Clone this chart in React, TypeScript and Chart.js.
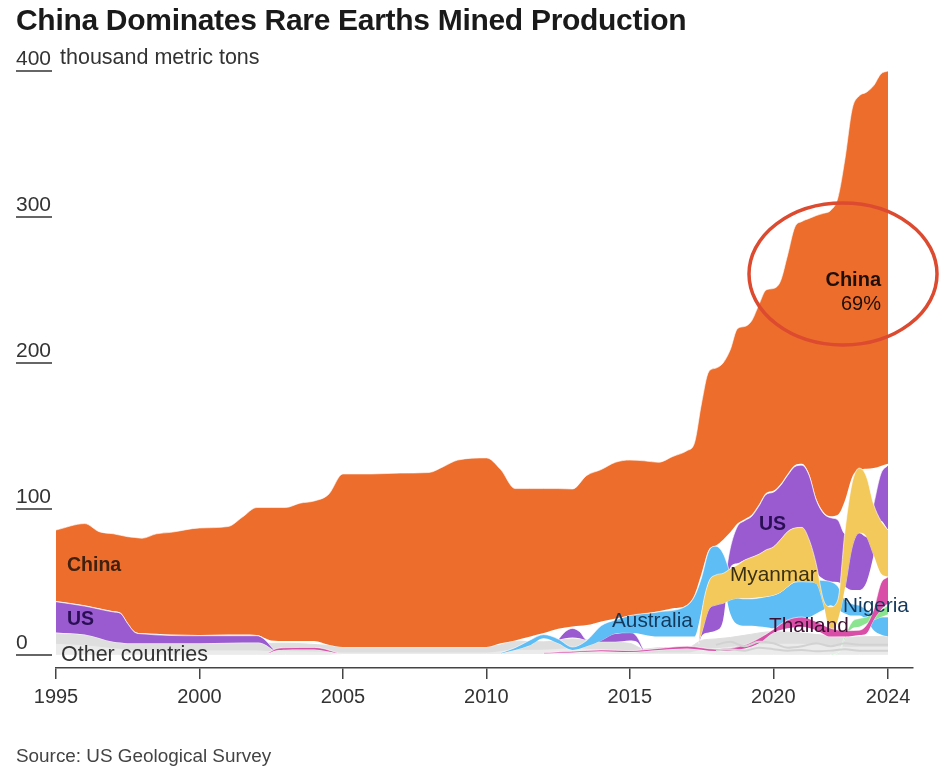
import { useEffect, useRef } from "react";
import Chart from "chart.js/auto";

const TITLE = "China Dominates Rare Earths Mined Production";
const UNIT = "thousand metric tons";
const SOURCE = "Source: US Geological Survey";
const yTicks = [0, 100, 200, 300, 400];
const xTicks = [1995, 2000, 2005, 2010, 2015, 2020, 2024];

const chinaYears = [1995, 1996, 1996.5, 1997, 1997.25, 1997.5, 1997.75, 1998, 1998.5, 1999, 2000, 2001, 2001.5, 2002, 2002.5, 2003, 2003.5, 2004, 2004.5, 2005, 2006, 2007, 2008, 2008.5, 2009, 2010, 2010.5, 2011, 2011.5, 2012, 2012.5, 2013, 2013.5, 2014, 2014.5, 2015, 2015.5, 2016, 2016.5, 2017, 2017.25, 2017.5, 2017.75, 2018, 2018.25, 2018.5, 2018.75, 2019, 2019.25, 2019.5, 2019.75, 2020, 2020.25, 2020.5, 2020.75, 2021, 2021.25, 2021.5, 2021.75, 2022, 2022.25, 2022.5, 2022.75, 2023, 2023.25, 2023.5, 2023.75, 2024];
const chinaHigh = [85.6, 90, 84.5, 83, 82, 81, 80.5, 80, 83, 84, 87, 88, 94.5, 101, 101, 101, 104, 105.5, 110, 124, 124, 124.6, 125, 129, 133.5, 135, 127, 114, 114, 114, 114, 113.7, 123, 127, 132, 133.5, 133, 132, 136, 140, 145, 172.5, 194, 196.5, 200, 209, 223.5, 225, 229, 240, 250, 251, 256, 274, 293, 297, 299, 301, 302.5, 304.5, 313, 340, 374, 383, 385.5, 390, 398, 400];
const chinaLow = [37, 34, 32, 30, 29, 22, 16, 15, 14.5, 14, 13.7, 14, 14, 13.7, 10, 9.6, 9.6, 9.6, 7, 5.5, 5.5, 5.5, 5.5, 5.5, 5.5, 5.5, 8, 10, 12.5, 15, 18, 19.5, 20.5, 23, 25, 27, 28.5, 30, 32, 34.5, 41, 56, 72, 75, 79, 84, 90, 93, 96, 103, 111, 112.5, 117, 124, 130, 131, 124, 107, 98, 95, 96, 106, 122, 127, 127.5, 128, 129.5, 131];

const usEarlyYears = [1995, 1996, 1997, 1997.25, 1997.5, 1997.75, 1998, 2000, 2002, 2002.25, 2002.6];
const usEarlyHigh = [36.5, 33.5, 29.5, 28.5, 21.5, 15.5, 14.5, 13.2, 13.2, 11, 3.5];
const usEarlyLow = [15.5, 14, 9, 8.5, 8, 8, 8, 8, 8.5, 7.5, 3];

const usMidYears = [2012.5, 2012.75, 2013, 2013.25, 2013.5, 2013.75, 2014, 2014.5, 2015, 2015.25, 2015.5];
const usMidHigh = [10.5, 16, 18.2, 16, 10.5, 12, 13.7, 14.8, 16, 12.5, 2.5];
const usMidLow = [10.3, 11.5, 12, 11.5, 10.3, 10, 9.1, 9.1, 10, 9, 2];

const lateYears = [2017.4, 2017.5, 2017.75, 2018, 2018.25, 2018.5, 2018.75, 2019, 2019.25, 2019.5, 2019.75, 2020, 2020.25, 2020.5, 2020.75, 2021, 2021.25, 2021.5, 2021.75, 2022, 2022.25, 2022.5, 2022.75, 2023, 2023.25, 2023.5, 2023.75, 2024];
const usLateHigh = [8, 16, 33, 35.4, 45, 73, 88, 92, 95, 102, 110, 111.5, 116, 123, 129, 130, 123, 106, 97, 94, 92.5, 83, 83, 83.7, 81, 103, 124, 130];
const usLateLow = [7.5, 13, 15.5, 16.7, 24, 60, 62.8, 65, 67, 69, 72, 74, 79, 84.5, 87, 87.4, 70, 57, 52, 50.2, 50, 46.8, 44.5, 44.5, 50, 68.5, 92, 85.6];
const myanmarHigh = [10, 28.5, 50, 54.8, 55.9, 59, 61.6, 65, 67, 69, 72, 74, 79, 84.5, 87, 87.4, 79, 62, 37.7, 33, 37.7, 85, 118, 128, 122, 103, 92, 85.6];
const myanmarLow = [9.5, 15, 31, 34.2, 35.4, 37.7, 38.8, 38.8, 39, 39.5, 40, 41, 43, 46.8, 50, 50.2, 50, 49, 35, 16, 24, 46, 74, 83.7, 81, 68.5, 56, 53.6];

const australiaYears = [2010.5, 2011, 2011.5, 2012, 2012.5, 2013, 2013.5, 2014, 2014.5, 2015, 2016, 2017, 2017.25, 2017.5, 2017.75, 2018, 2018.25, 2018.5, 2018.75, 2019, 2019.25, 2019.5, 2019.75, 2020, 2020.25, 2020.5, 2020.75, 2021, 2021.25, 2021.5, 2021.75, 2022, 2022.25, 2022.5, 2022.75, 2023, 2023.25, 2023.5, 2023.75, 2024];
const australiaHigh = [1.5, 5, 10, 14, 11, 5.5, 10, 20, 24, 27, 29.5, 34, 40, 53, 71, 74.5, 69.6, 55.9, 40, 38.5, 38.5, 39, 40, 41, 43, 46.8, 50, 50.5, 51, 51.4, 51, 50.2, 47, 37.7, 35, 34, 31, 27.4, 26, 26];
const australiaLow = [1, 3.5, 6.5, 11.5, 8, 3.5, 6, 10, 14.8, 15.3, 12.6, 12.6, 12.6, 30, 50, 54, 49, 28.5, 21, 20, 20, 19.5, 19, 18.3, 20, 22, 23.5, 25, 26, 28.5, 31, 34, 31, 28.5, 27, 27, 24, 17, 14, 12.6];

const thailandEarlyYears = [2002.4, 2002.7, 2003, 2003.5, 2004, 2004.4, 2004.8];
const thailandEarlyHigh = [1.5, 4.5, 5, 5.2, 5.2, 4, 1.5];
const thailandEarlyLow = [1.2, 3.2, 3.6, 3.8, 3.8, 2.8, 1.2];
const thailandYears = [2012, 2013, 2014, 2015, 2016, 2017, 2018, 2019, 2019.5, 2020, 2020.5, 2021, 2021.5, 2022, 2022.5, 2023, 2023.25, 2023.5, 2023.75, 2024];
const thailandHigh = [1.5, 2.5, 3.5, 3, 4.5, 6, 4, 6.8, 11.4, 17.5, 24, 26, 22.8, 18.3, 16.7, 17, 20.5, 31, 49, 53.6];
const thailandLow = [1, 1.8, 2.6, 2, 3.4, 4.5, 2.7, 4.5, 8, 15.3, 18.3, 19.4, 17, 12.6, 12.6, 13.7, 14.8, 24, 31, 35.4];

const nigeriaYears = [2022, 2022.25, 2022.5, 2022.75, 2023, 2023.25, 2023.5, 2023.75, 2024];
const nigeriaHigh = [0.2, 1, 13, 22.8, 25, 26, 29, 31, 34];
const nigeriaLow = [0, 0.7, 11.5, 18.3, 19.4, 21.7, 24, 26, 28];

const otherYears = [1995, 1996, 1997, 1997.5, 1998, 2002, 2002.5, 2003, 2004.5, 2005, 2010, 2010.5, 2011, 2012, 2013, 2014, 2015, 2015.5, 2016, 2017, 2017.5, 2018, 2018.5, 2019, 2020, 2021, 2022, 2022.5, 2023, 2024];
const otherHigh = [14.5, 13.5, 11, 9.5, 8.5, 8.5, 8, 8, 6.5, 5.5, 5.5, 7, 9.5, 9, 11, 9, 8, 4, 5, 5, 10, 11, 12, 13.5, 16, 15, 13, 12, 12.5, 12.6];
const otherMid = [8, 7, 5, 4, 3.5, 3.5, 3, 3, 2.5, 2, 2, 3, 4, 4, 5, 4, 3, 1.5, 2, 2, 4, 5, 6, 7, 8, 8, 7, 6, 6, 6];
const otherLow = [0.5, 0.5, 0.5, 0.5, 0.5, 0.5, 0.5, 0.5, 0.5, 1, 1, 1, 1, 1, 1, 1, 1, 1, 1, 1, 1, 0.5, 0.5, 0.5, 0.5, 0.5, 0.5, 0.5, 0.5, 0.5];

const strandYears = [2018, 2018.5, 2019, 2019.5, 2020, 2020.5, 2021, 2021.5, 2022, 2022.5, 2023, 2024];
const strandA = [7, 9, 6, 9, 8, 5, 6, 8, 6, 8, 7, 7];
const strandB = [3, 4, 3, 5, 4, 3, 3.5, 2.5, 3, 4, 3, 3];

const ORANGE = "#ed6d2c";
const PURPLE = "#9a5bd0";
const BLUE = "#5fbdf5";
const YELLOW = "#f3c95c";
const PINK = "#d94fa8";
const GREEN = "#8be48f";
const EDGE = "rgba(255,255,255,0.6)";

// first band listed ends up on top, chart.js paints the datasets in reverse
const bands: [number[], number[], number[], string, string][] = [
  [thailandYears, thailandHigh, thailandLow, PINK, EDGE],
  [thailandEarlyYears, thailandEarlyHigh, thailandEarlyLow, PINK, EDGE],
  [nigeriaYears, nigeriaHigh, nigeriaLow, GREEN, EDGE],
  [lateYears, myanmarHigh, myanmarLow, YELLOW, EDGE],
  [australiaYears, australiaHigh, australiaLow, BLUE, EDGE],
  [lateYears, usLateHigh, usLateLow, PURPLE, EDGE],
  [usMidYears, usMidHigh, usMidLow, PURPLE, EDGE],
  [usEarlyYears, usEarlyHigh, usEarlyLow, PURPLE, EDGE],
  [chinaYears, chinaHigh, chinaLow, ORANGE, EDGE],
  [otherYears, otherHigh, otherMid, "#dedede", "#dedede"],
  [otherYears, otherMid, otherLow, "#ebebeb", "#ebebeb"]
];

const points = (xs: number[], ys: number[]) => xs.map((x, i) => ({ x, y: ys[i] }));

function buildDatasets() {
  const sets: any[] = [];
  [strandA, strandB].forEach(s => {
    sets.push({
      data: points(strandYears, s),
      borderColor: "#d2d2d2",
      borderWidth: 2,
      fill: false,
      pointRadius: 0,
      cubicInterpolationMode: "monotone"
    });
  });
  bands.forEach(([years, high, low, color, edge]) => {
    const lowIndex = sets.length + 1;
    sets.push({
      data: points(years, high),
      borderColor: edge,
      borderWidth: 1,
      backgroundColor: color,
      fill: { target: lowIndex },
      pointRadius: 0,
      cubicInterpolationMode: "monotone"
    });
    sets.push({
      data: points(years, low),
      borderColor: edge,
      borderWidth: 1,
      fill: false,
      pointRadius: 0,
      cubicInterpolationMode: "monotone"
    });
  });
  return sets;
}

const FONT = '"Liberation Sans", Arial, sans-serif';

const textsPlugin = {
  id: "texts",
  afterDraw(chart: any) {
    const ctx = chart.ctx;
    const yScale = chart.scales.y;

    ctx.save();
    ctx.textBaseline = "alphabetic";

    const put = (s: string, x: number, y: number, font: string, color: string, align = "left", spacing = "0px") => {
      ctx.font = font;
      ctx.fillStyle = color;
      ctx.textAlign = align;
      ctx.letterSpacing = spacing;
      ctx.fillText(s, x, y);
    };

    put(TITLE, 16, 30, `bold 30px ${FONT}`, "#1a1a1a", "left", "-0.3px");

    yTicks.forEach(t => {
      const y = Math.round(yScale.getPixelForValue(t));
      ctx.strokeStyle = "#333";
      ctx.lineWidth = 1.5;
      ctx.beginPath();
      ctx.moveTo(16, y);
      ctx.lineTo(52, y);
      ctx.stroke();
      put(String(t), 16, y - 6, `21px ${FONT}`, "#333");
    });
    put(UNIT, 60, 64, `21.5px ${FONT}`, "#333");

    put("China", 67, 571, `bold 19.5px ${FONT}`, "#40200f");
    put("US", 67, 625, `bold 19.5px ${FONT}`, "#2a0f55");
    put("Other countries", 61, 661, `21.5px ${FONT}`, "#333");
    put("Australia", 612, 627, `20.8px ${FONT}`, "#12395c");
    put("US", 759, 530, `bold 19.5px ${FONT}`, "#2a0f55");
    put("Myanmar", 730, 581, `20.8px ${FONT}`, "#3a2f10");
    put("Nigeria", 843, 612, `20.8px ${FONT}`, "#12395c");
    put("Thailand", 769, 632, `20.8px ${FONT}`, "#3b1030");
    put("China", 881, 286, `bold 20px ${FONT}`, "#1f0f08", "right");
    put("69%", 881, 310, `20px ${FONT}`, "#1f0f08", "right");

    put(SOURCE, 16, 762, `18.9px ${FONT}`, "#444");

    // hand drawn circle around the China label
    ctx.strokeStyle = "#dc4a30";
    ctx.lineWidth = 3.5;
    ctx.beginPath();
    ctx.ellipse(843, 274, 94, 71, 0, 0, Math.PI * 2);
    ctx.stroke();
    ctx.restore();
  }
};

export default function App() {
  const canvasRef = useRef<HTMLCanvasElement>(null);

  useEffect(() => {
    if (!canvasRef.current) return;
    const chart = new Chart(canvasRef.current, {
      type: "line",
      data: { datasets: buildDatasets() },
      plugins: [textsPlugin],
      options: {
        animation: false,
        responsive: false,
        devicePixelRatio: 1,
        layout: { padding: { left: 56, right: 28, top: 71, bottom: 0 } },
        plugins: { legend: { display: false }, tooltip: { enabled: false }, title: { display: false } },
        scales: {
          x: {
            type: "linear",
            min: 1995,
            max: 2024.87,
            afterBuildTicks: (axis: any) => {
              axis.ticks = xTicks.map(value => ({ value }));
            },
            afterFit: (axis: any) => {
              axis.height = 109;
            },
            grid: { drawOnChartArea: false, drawTicks: true, tickLength: 11, color: "#444", lineWidth: 1.5 },
            border: { color: "#444", width: 1.5 },
            ticks: {
              autoSkip: false,
              maxRotation: 0,
              padding: 6,
              color: "#333",
              font: { family: FONT, size: 20 },
              callback: (v: any) => String(v)
            }
          },
          y: {
            display: false,
            min: -8.9,
            max: 400
          }
        }
      }
    });
    return () => chart.destroy();
  }, []);

  return (
    <div style={{ position: "fixed", left: 0, top: 0, width: 941, height: 777, background: "#fff" }}>
      <canvas ref={canvasRef} width={941} height={777} />
    </div>
  );
}
